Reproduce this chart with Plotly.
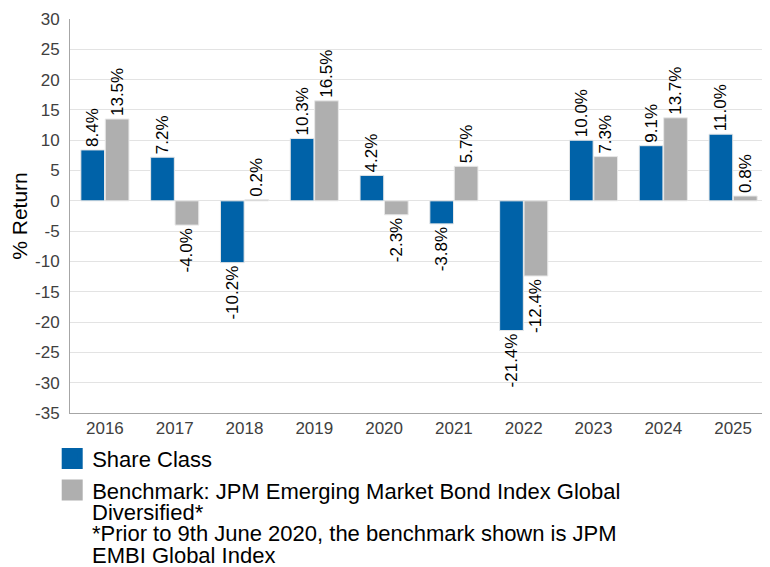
import plotly.graph_objects as go

years = ["2016", "2017", "2018", "2019", "2020", "2021", "2022", "2023", "2024", "2025"]
share_class = [8.4, 7.2, -10.2, 10.3, 4.2, -3.8, -21.4, 10.0, 9.1, 11.0]
benchmark = [13.5, -4.0, 0.2, 16.5, -2.3, 5.7, -12.4, 7.3, 13.7, 0.8]
y_ticks = [30, 25, 20, 15, 10, 5, 0, -5, -10, -15, -20, -25, -30, -35]

BLUE = "#0062A8"
GREY = "#AFAFAF"
FONT = "Arial, Liberation Sans, sans-serif"

share_name = "Share Class"
bench_name = "Benchmark: JPM Emerging Market Bond Index Global"
bench_note_lines = ["Diversified*",
                    "*Prior to 9th June 2020, the benchmark shown is JPM",
                    "EMBI Global Index"]

fig = go.Figure()
fig.add_trace(go.Bar(
    x=years, y=share_class, name=share_name, showlegend=False,
    marker=dict(color=BLUE, line=dict(color="#e8e8e8", width=1)),
    text=[f"{v:.1f}%" for v in share_class], textposition="outside",
    textangle=-90, cliponaxis=False, constraintext="none",
    textfont=dict(family=FONT, size=17, color="#000000"),
))
fig.add_trace(go.Bar(
    x=years, y=benchmark, name="Benchmark", showlegend=False,
    marker=dict(color=GREY, line=dict(color="#e8e8e8", width=1)),
    text=[f"{v:.1f}%" for v in benchmark], textposition="outside",
    textangle=-90, cliponaxis=False, constraintext="none",
    textfont=dict(family=FONT, size=17, color="#000000"),
))
# legend entries with larger square swatches
fig.add_trace(go.Scatter(x=[None], y=[None], mode="markers", name=share_name,
                         marker=dict(symbol="square", size=16, color=BLUE,
                                     line=dict(color=BLUE, width=5))))
fig.add_trace(go.Scatter(x=[None], y=[None], mode="markers", name=bench_name,
                         marker=dict(symbol="square", size=16, color=GREY,
                                     line=dict(color=GREY, width=5))))

note_y = [-0.2518, -0.3068, -0.3624]
for txt, yy in zip(bench_note_lines, note_y):
    fig.add_annotation(text=txt, xref="paper", yref="paper", x=0.0289, y=yy,
                       xanchor="left", yanchor="middle", showarrow=False,
                       font=dict(family=FONT, size=22, color="#000000"))

fig.update_layout(
    width=770, height=567,
    margin=dict(l=62, r=10, t=11, b=162, autoexpand=False),
    paper_bgcolor="white", plot_bgcolor="white",
    font=dict(family=FONT, color="#000000"),
    barmode="group", bargap=0.30, bargroupgap=0.03,
    legend=dict(
        orientation="v", x=-0.0255, xanchor="left", y=-0.0625, yanchor="top",
        font=dict(family=FONT, size=22, color="#000000"),
        traceorder="normal", itemclick=False,
    ),
    xaxis=dict(
        type="category", showline=True, linecolor="#a6a6a6", linewidth=1,
        showgrid=False, ticks="", automargin=False,
        tickfont=dict(family=FONT, size=17, color="#404040"),
    ),
    yaxis=dict(
        range=[-35, 30], tickvals=y_ticks, ticktext=[str(v) for v in y_ticks],
        showline=True, linecolor="#a6a6a6", linewidth=1, automargin=False,
        showgrid=True, gridcolor="#e3e3e3", gridwidth=1,
        zeroline=True, zerolinecolor="#e3e3e3", zerolinewidth=1,
        ticks="", ticklabelstandoff=6,
        tickfont=dict(family=FONT, size=17, color="#404040"),
        title=dict(text="% Return", font=dict(family=FONT, size=21, color="#000000"), standoff=12),
    ),
)

fig.write_html("out.html")
